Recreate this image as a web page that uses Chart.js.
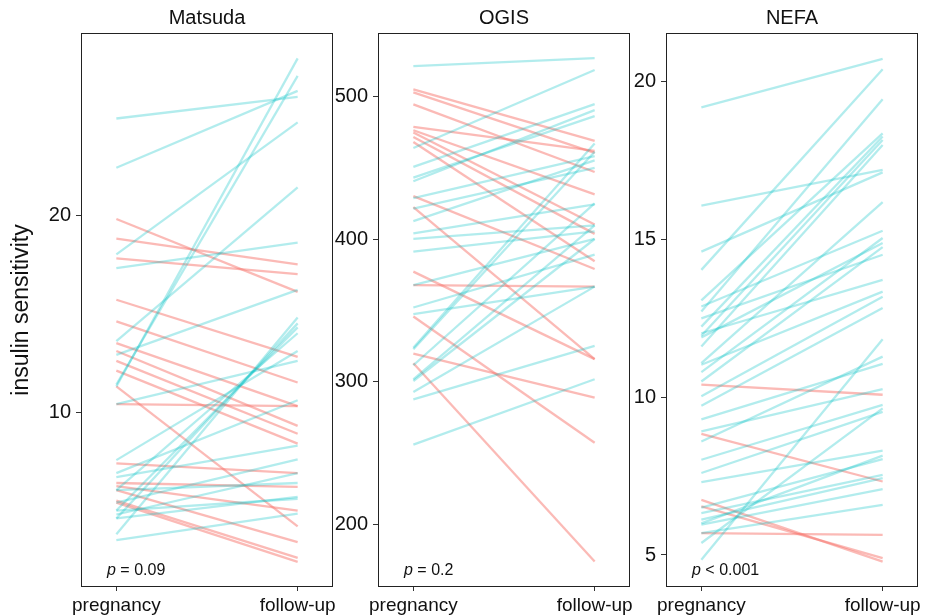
<!DOCTYPE html>
<html>
<head>
<meta charset="utf-8">
<script src="https://cdn.jsdelivr.net/npm/chart.js@4.4.1/dist/chart.umd.min.js"></script>
<style>
  body { margin: 0; background: #fff; width: 933px; height: 616px; position: relative; overflow: hidden; }
  canvas { position: absolute; top: 0; }
</style>
</head>
<body>
<canvas id="c1" width="345" height="616" style="left:0"></canvas>
<canvas id="c2" width="315" height="616" style="left:325px"></canvas>
<canvas id="c3" width="313" height="616" style="left:620px"></canvas>
<script>
const timepoints = ["pregnancy", "follow-up"];

// Matsuda index, one entry per subject
const matsudaPre  = [24.9, 22.4, 11.3, 11.4, 18.0, 17.3, 13.6, 12.9, 10.4, 3.8, 4.6, 5.0, 6.04, 7.56, 6.9, 6.7, 5.4, 4.8, 6.04, 4.6, 5.0, 3.5,
                     19.8, 18.8, 17.8, 15.7, 14.6, 13.5, 13.1, 12.6, 12.1, 11.3, 10.4, 7.4, 6.4, 6.24, 6.04, 5.5, 5.4];
const matsudaPost = [26.0, 26.3, 27.95, 27.06, 24.7, 18.6, 21.4, 16.2, 12.6, 14.8, 14.5, 14.3, 14.0, 13.1, 10.6, 8.3, 7.6, 6.9, 6.4, 5.7, 5.6, 4.85,
                     16.1, 17.5, 17.0, 12.8, 11.5, 10.3, 9.3, 8.9, 8.4, 4.2, 10.3, 6.9, 6.2, 5.0, 3.4, 2.6, 2.4];

// OGIS
const ogisPre  = [521, 463.7, 450.4, 442.9, 440.4, 428.6, 421.2, 412.5, 404, 400.1, 391.2, 367.8, 352.1, 347.5, 324, 322.9, 311.7, 301.9, 300.7, 293, 287.8, 256.2,
                  504.7, 502.6, 494.2, 478.5, 476.1, 474.5, 471.4, 467.9, 430, 422.3, 377.2, 367.8, 345.8, 319.9, 313.1];
const ogisPost = [526.5, 518.2, 494.4, 486, 490.2, 457.9, 449.7, 455, 424.2, 409.5, 405.3, 400.1, 389.1, 366.7, 466.8, 461, 425, 409.5, 400, 366.7, 325.3, 301.9,
                  468.6, 460.2, 446.9, 461.6, 431.2, 410.2, 403.6, 384.4, 379, 316, 316, 366.7, 257.5, 289, 174.5];

// NEFA suppression
const nefaPre  = [19.19, 16.08, 14.62, 14.04, 13.07, 12.88, 12.72, 12.5, 12.24, 12.03, 11.95, 11.9, 11.61, 11.08, 11.03, 10.8, 10.5, 10.03, 9.73, 9.3, 8.92, 8.6, 8.02, 7.6, 7.31, 6.5, 6.33, 6.12, 6.0, 5.96, 5.69, 5.38, 4.85,
                  10.4, 8.84, 6.75, 6.54, 5.69];
const nefaPost = [20.73, 17.21, 17.13, 20.4, 18.37, 15.28, 19.45, 14.52, 18.27, 13.72, 18.16, 14.89, 18.0, 16.19, 13.35, 15.05, 14.76, 13.19, 12.83, 11.06, 10.26, 11.29, 9.76, 9.54, 8.31, 8.04, 7.54, 7.44, 8.15, 7.09, 6.59, 9.65, 11.84,
                  10.08, 7.33, 4.79, 4.9, 5.64];

const teal = "rgba(0,191,196,0.3)";
const salmon = "rgba(248,118,109,0.5)";
const font = "'Liberation Sans', Arial, Helvetica, sans-serif";

const frame = {
  id: "frame",
  afterDraw(chart, args, opts) {
    const a = chart.chartArea, ctx = chart.ctx;
    ctx.save();
    ctx.strokeStyle = "#222";
    ctx.lineWidth = 1;
    ctx.strokeRect(a.left + 0.5, a.top + 0.5, a.right - a.left - 1, a.bottom - a.top - 1);
    // p value
    ctx.fillStyle = "#111";
    ctx.textBaseline = "middle";
    ctx.font = "italic 16px " + font;
    const x0 = a.left + 26, y0 = a.bottom - 16;
    ctx.fillText("p", x0, y0);
    const w = ctx.measureText("p").width;
    ctx.font = "16px " + font;
    ctx.fillText(opts.text, x0 + w, y0);
    ctx.restore();
  }
};

function makePanel(id, title, pre, post, yMin, yMax, yTicks, axisW, padRight, pText, yTitle) {
  const datasets = pre.map((v, i) => ({
    data: [{ x: 0, y: v }, { x: 1, y: post[i] }],
    borderColor: post[i] >= v ? teal : salmon,
    borderWidth: 2.3,
    pointRadius: 0,
    fill: false,
    tension: 0
  }));
  new Chart(document.getElementById(id), {
    type: "line",
    data: { datasets },
    plugins: [frame],
    options: {
      responsive: false,
      animation: false,
      devicePixelRatio: 1,
      layout: { padding: { left: 0, right: padRight, top: 0, bottom: 0 } },
      plugins: {
        legend: { display: false },
        tooltip: { enabled: false },
        title: { display: true, text: title, fullSize: false, color: "#111", font: { family: font, size: 20, weight: "normal" }, padding: { top: 6.5, bottom: 2.5 } },
        frame: { text: " " + pText }
      },
      scales: {
        x: {
          type: "linear", min: -0.195, max: 1.195,
          afterBuildTicks: s => { s.ticks = [{ value: 0 }, { value: 1 }]; },
          afterFit: s => { s.height = 29; },
          ticks: { callback: (v, i) => timepoints[i], color: "#111", font: { family: font, size: 19 }, padding: 3, maxRotation: 0, autoSkip: false },
          grid: { drawOnChartArea: false, drawTicks: true, tickLength: 4, color: "#333" },
          border: { display: false }
        },
        y: {
          min: yMin, max: yMax,
          afterBuildTicks: s => { s.ticks = yTicks.map(v => ({ value: v })); },
          afterFit: s => { s.width = axisW; },
          ticks: { color: "#111", font: { family: font, size: 20 }, padding: 5 },
          grid: { drawOnChartArea: false, drawTicks: true, tickLength: 5, color: "#333" },
          border: { display: false },
          title: { display: !!yTitle, text: yTitle, color: "#111", font: { family: font, size: 23 }, padding: { top: 8, bottom: 0 } }
        }
      }
    }
  });
}

makePanel("c1", "Matsuda", matsudaPre, matsudaPost, 1.12, 29.24, [10, 20], 81, 12, "= 0.09", "insulin sensitivity");
makePanel("c2", "OGIS", ogisPre, ogisPost, 156.6, 544.1, [200, 300, 400, 500], 53, 10, "= 0.2", "");
makePanel("c3", "NEFA", nefaPre, nefaPost, 3.985, 21.55, [5, 10, 15, 20], 46, 15, "< 0.001", "");
</script>
</body>
</html>
